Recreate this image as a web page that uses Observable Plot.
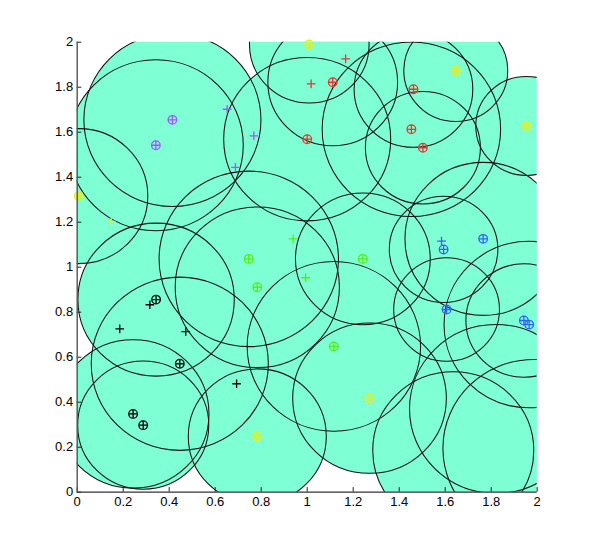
<!DOCTYPE html>
<html>
<head>
<meta charset="utf-8">
<script src="https://cdn.jsdelivr.net/npm/d3@7"></script>
<script src="https://cdn.jsdelivr.net/npm/@observablehq/plot@0.6"></script>
<style>
  html, body { margin: 0; padding: 0; background: #fff; }
  #chart svg { display: block; }
</style>
</head>
<body>
<div id="chart"></div>
<script>
// ---- cluster heads (⊕ markers) ----
const headX = [1.009, 1.646, 1.953, 0.007, 1.271, 0.783, 1.111, 1.462, 1.000, 1.453, 1.503, 0.414, 0.342, 0.746, 0.783, 1.242, 1.116, 1.593, 1.765, 1.606, 1.942, 1.965, 0.343, 0.446, 0.243, 0.287];
const headY = [1.990, 1.874, 1.628, 1.316, 0.418, 0.248, 1.822, 1.791, 1.569, 1.613, 1.531, 1.655, 1.542, 1.037, 0.911, 1.037, 0.648, 1.079, 1.126, 0.812, 0.763, 0.745, 0.856, 0.571, 0.348, 0.298];
const headGroup = ["yellow","yellow","yellow","yellow","yellow","yellow","red","red","red","red","red","purple","purple","green","green","green","green","blue","blue","blue","blue","blue","black","black","black","black"];

// ---- coverage circles (centre and radius, data units) ----
const circleX = [1.009, 1.646, 1.953, 0.007, 1.271, 0.783, 1.111, 1.462, 1.000, 1.453, 1.503, 0.414, 0.342, 0.746, 0.783, 1.242, 1.116, 1.593, 1.765, 1.606, 1.942, 1.965, 0.343, 0.446, 0.243, 0.287, 1.635, 1.820, 1.985];
const circleY = [1.990, 1.874, 1.628, 1.316, 0.418, 0.248, 1.822, 1.791, 1.569, 1.613, 1.531, 1.655, 1.542, 1.037, 0.911, 1.037, 0.648, 1.079, 1.126, 0.812, 0.763, 0.745, 0.856, 0.571, 0.348, 0.298, 0.185, 0.370, 0.195];
const circleR = [0.260, 0.226, 0.220, 0.300, 0.334, 0.300, 0.282, 0.258, 0.363, 0.388, 0.250, 0.385, 0.380, 0.390, 0.357, 0.293, 0.377, 0.236, 0.340, 0.230, 0.252, 0.370, 0.340, 0.385, 0.330, 0.285, 0.350, 0.375, 0.395];

// ---- member nodes (+ markers) ----
const memberX = [0.148, 1.167, 1.017, 0.652, 0.768, 0.688, 0.939, 0.993, 1.584, 0.316, 0.185, 0.472, 0.693];
const memberY = [1.204, 1.926, 1.815, 1.702, 1.584, 1.444, 1.126, 0.953, 1.116, 0.833, 0.726, 0.714, 0.482];
const memberGroup = ["yellow","red","red","purple","purple","purple","green","green","blue","black","black","black","black"];

// ---- group colours ----
const groupNames  = ["yellow", "red", "purple", "green", "blue", "black"];
const groupColors = ["#eeee00", "#e8352f", "#a855f7", "#55ee11", "#2f63ff", "#000000"];

// ---- ticks ----
const xTickValues = [0, 0.2, 0.4, 0.6, 0.8, 1, 1.2, 1.4, 1.6, 1.8, 2];
const xTickLabels = ["0", "0.2", "0.4", "0.6", "0.8", "1", "1.2", "1.4", "1.6", "1.8", "2"];
const yTickValues = [0, 0.2, 0.4, 0.6, 0.8, 1, 1.2, 1.4, 1.6, 1.8, 2];
const yTickLabels = ["0", "0.2", "0.4", "0.6", "0.8", "1", "1.2", "1.4", "1.6", "1.8", "2"];

// ---- build tables ----
const colorOf = g => groupColors[groupNames.indexOf(g)];
const circles = circleX.map((x, i) => ({x, y: circleY[i], r: circleR[i]}));
const heads = headX.map((x, i) => ({x, y: headY[i], c: colorOf(headGroup[i])}));
const members = memberX.map((x, i) => ({x, y: memberY[i], c: colorOf(memberGroup[i])}));

// ---- layout ----
const W = 592, H = 554;
const mL = 76.7, mR = 55.3, mT = 41.7, mB = 62.3;
const plotW = W - mL - mR, plotH = H - mT - mB;
const xSpan = 2, ySpan = 2;
const kx = plotW / xSpan, ky = plotH / ySpan;   // pixels per data unit
const aspect = ky / kx;
const tickLen = 4.6;

// circle in data units -> ellipse in pixels
const ellipseSym = {
  draw(ctx, size) {
    const rx = Math.sqrt(size / Math.PI), ry = rx * aspect, k = 0.5522847498;
    ctx.moveTo(rx, 0);
    ctx.bezierCurveTo(rx, ry * k, rx * k, ry, 0, ry);
    ctx.bezierCurveTo(-rx * k, ry, -rx, ry * k, -rx, 0);
    ctx.bezierCurveTo(-rx, -ry * k, -rx * k, -ry, 0, -ry);
    ctx.bezierCurveTo(rx * k, -ry, rx, -ry * k, rx, 0);
    ctx.closePath();
  }
};
const plusSym = {
  draw(ctx, size) {
    const r = Math.sqrt(size / Math.PI);
    ctx.moveTo(-r, 0); ctx.lineTo(r, 0);
    ctx.moveTo(0, -r); ctx.lineTo(0, r);
  }
};
const oplusSym = {
  draw(ctx, size) {
    const r = Math.sqrt(size / Math.PI);
    ctx.moveTo(r, 0); ctx.arc(0, 0, r, 0, 2 * Math.PI);
    ctx.moveTo(-r, 0); ctx.lineTo(r, 0);
    ctx.moveTo(0, -r); ctx.lineTo(0, r);
  }
};

const chart = Plot.plot({
  width: W,
  height: H,
  marginLeft: mL,
  marginRight: mR,
  marginTop: mT,
  marginBottom: mB,
  style: {fontFamily: "'Liberation Sans', Arial, Helvetica, sans-serif", fontSize: "13px", background: "#fff", color: "#000"},
  x: {domain: [0, 2]},
  y: {domain: [0, 2]},
  r: {type: "identity"},
  color: {type: "identity"},
  marks: [
    Plot.dot(circles, {x: "x", y: "y", r: d => d.r * kx, symbol: ellipseSym, fill: "#7fffd4", stroke: "none", clip: true}),
    Plot.dot(circles, {x: "x", y: "y", r: d => d.r * kx, symbol: ellipseSym, fill: "none", stroke: "#111", strokeWidth: 1.05, clip: true}),
    Plot.dot(heads, {x: "x", y: "y", r: 4.3, symbol: oplusSym, fill: "none", stroke: "c", strokeWidth: 1.3}),
    Plot.dot(members, {x: "x", y: "y", r: 4.3, symbol: plusSym, fill: "none", stroke: "c", strokeWidth: 1.3}),
    Plot.tickX(xTickValues, {x: d => d, insetTop: plotH - tickLen, stroke: "#222"}),
    Plot.tickY(yTickValues, {y: d => d, insetRight: plotW - tickLen, stroke: "#222"}),
    Plot.ruleY([0], {stroke: "#333", strokeWidth: 1.2}),
    Plot.ruleX([0], {stroke: "#555", strokeWidth: 1.4}),
    Plot.axisX({ticks: xTickValues, tickSize: 0, tickPadding: 5, tickFormat: d => xTickLabels[xTickValues.indexOf(d)], label: null}),
    Plot.axisY({ticks: yTickValues, tickSize: 0, tickPadding: 4, tickFormat: d => yTickLabels[yTickValues.indexOf(d)], label: null})
  ]
});
document.getElementById("chart").appendChild(chart);
</script>
</body>
</html>
